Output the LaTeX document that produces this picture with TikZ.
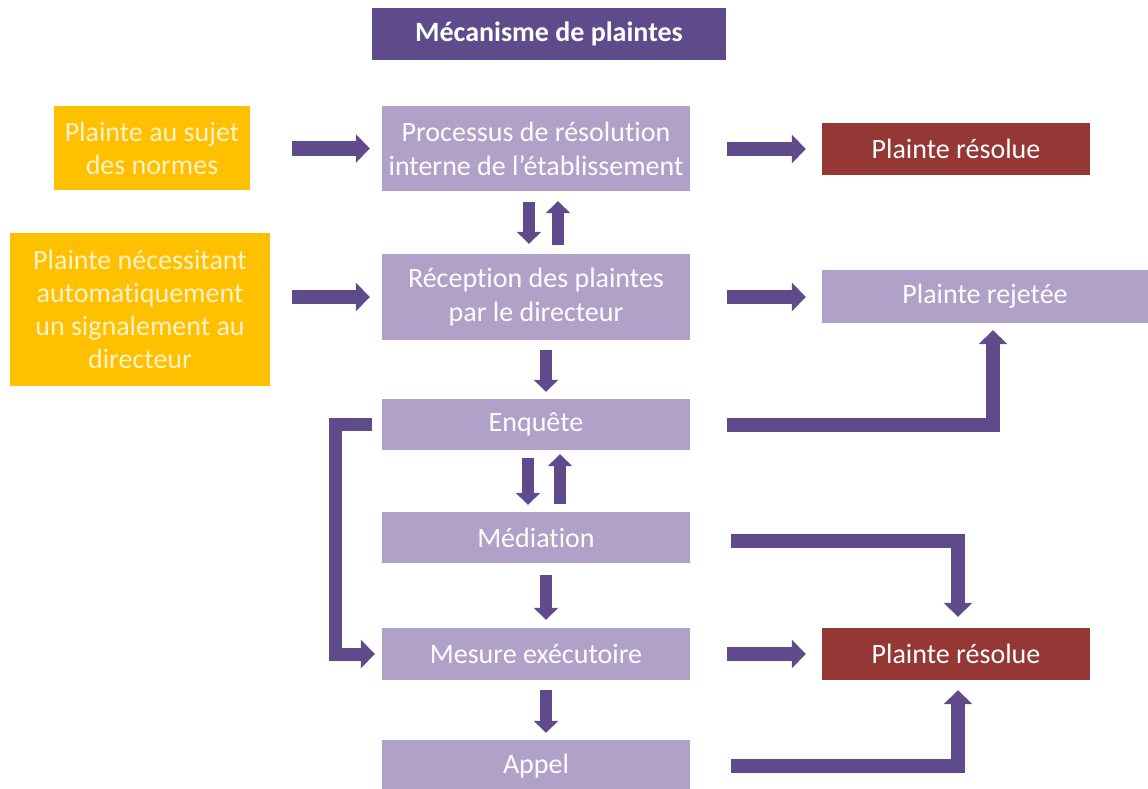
\documentclass[tikz,border=0pt]{standalone}
\usepackage{fontspec}
\setmainfont{Carlito}[Ligatures=NoCommon]
\usetikzlibrary{arrows.meta,calc}
\definecolor{lp}{HTML}{B1A0C7}
\definecolor{dp}{HTML}{5F4B8B}
\definecolor{rd}{HTML}{953735}
\definecolor{yl}{HTML}{FFC000}
\definecolor{yt}{HTML}{FFF2CC}
\begin{document}
\begin{tikzpicture}[x=1pt,y=-1pt,
  base/.style={inner sep=0pt, align=center, font=\fontsize{28}{34}\selectfont},
  lbox/.style={base, fill=lp, text=white, minimum width=308pt},
  rbox/.style={base, fill=rd, text=white, minimum width=268pt, minimum height=52pt},
  ybox/.style={base, fill=yl, text=yt, font=\fontsize{28}{33}\selectfont},
  arr/.style={draw=dp, line width=14pt, line join=miter, -{Triangle[width=28pt,length=14pt]}},
  varr/.style={draw=dp, line width=12pt, -{Triangle[width=24pt,length=12pt]}}]
\useasboundingbox (0,0) rectangle (1148,789);
\node[base, fill=dp, text=white, font=\fontsize{28}{32}\selectfont\bfseries, minimum width=354pt, minimum height=52pt] (title) at (549,34) {Mécanisme de plaintes};
\node[ybox, minimum width=196pt, minimum height=84pt] (y1) at (152,148) {Plainte au sujet\\des normes};
\node[ybox, minimum width=260pt, minimum height=153pt] (y2) at (140,309.5) {Plainte nécessitant\\automatiquement\\un signalement au\\directeur};
\node[lbox, minimum height=85pt] (proc) at (536,148.5) {Processus de résolution\\interne de l’établissement};
\node[lbox, minimum height=86pt] (recep) at (536,297) {Réception des plaintes\\par le directeur};
\node[lbox, minimum height=51pt] (enq) at (536,424.5) {Enquête};
\node[lbox, minimum height=51pt] (med) at (536,537.5) {Médiation};
\node[lbox, minimum height=52pt] (mes) at (536,654) {Mesure exécutoire};
\node[lbox, minimum height=52pt] (appel) at (536,766) {Appel};
\node[rbox] (res1) at (956,149) {Plainte résolue};
\node[base, fill=lp, text=white, minimum width=326pt, minimum height=53pt] (rej) at (985,296.5) {Plainte rejetée};
\node[rbox] (res2) at (956,654) {Plainte résolue};
% horizontal arrows
\draw[arr, shorten <=42pt, shorten >=12pt] (y1.east |- proc.west) -- (proc.west);
\draw[arr, shorten <=22pt, shorten >=12pt] (recep.west -| y2.east) -- (recep.west);
\draw[arr, shorten <=37pt, shorten >=16pt] (proc.east |- res1.west) -- (res1.west);
\draw[arr, shorten <=37pt, shorten >=16pt] (recep.east) -- (recep.east -| rej.west);
\draw[arr, shorten <=37pt, shorten >=16pt] (mes.east) -- (res2.west);
% vertical arrows
\draw[varr, shorten <=11pt, shorten >=10pt] ($(proc.south)+(-7,0)$) -- ($(recep.north)+(-7,0)$);
\draw[varr, shorten <=9pt, shorten >=10pt] ($(recep.north)+(22,0)$) -- ($(proc.south)+(22,0)$);
\draw[varr, shorten <=10pt, shorten >=7pt] ($(recep.south)+(10,0)$) -- ($(enq.north)+(10,0)$);
\draw[varr, shorten <=8pt, shorten >=7pt] ($(enq.south)+(-8,0)$) -- ($(med.north)+(-8,0)$);
\draw[varr, shorten <=8pt, shorten >=4pt] ($(med.north)+(24,0)$) -- ($(enq.south)+(24,0)$);
\draw[varr, shorten <=12pt, shorten >=8pt] ($(med.south)+(10,0)$) -- ($(mes.north)+(10,0)$);
\draw[varr, shorten <=10pt, shorten >=7pt] ($(mes.south)+(10,0)$) -- ($(appel.north)+(10,0)$);
% elbow connectors
\draw[arr, shorten <=37pt, shorten >=7pt] (enq.east) -| ($(rej.south)+(8,0)$);
\draw[arr, shorten <=41pt, shorten >=11pt] ($(med.east)+(0,3)$) -| ($(res2.north)+(2,0)$);
\draw[arr, shorten <=41pt, shorten >=10pt] (appel.east) -| ($(res2.south)+(2,0)$);
\draw[arr, line width=13pt, shorten <=10pt, shorten >=7pt] (enq.west) -- ++(-46,0) |- (mes.west);
\end{tikzpicture}
\end{document}
